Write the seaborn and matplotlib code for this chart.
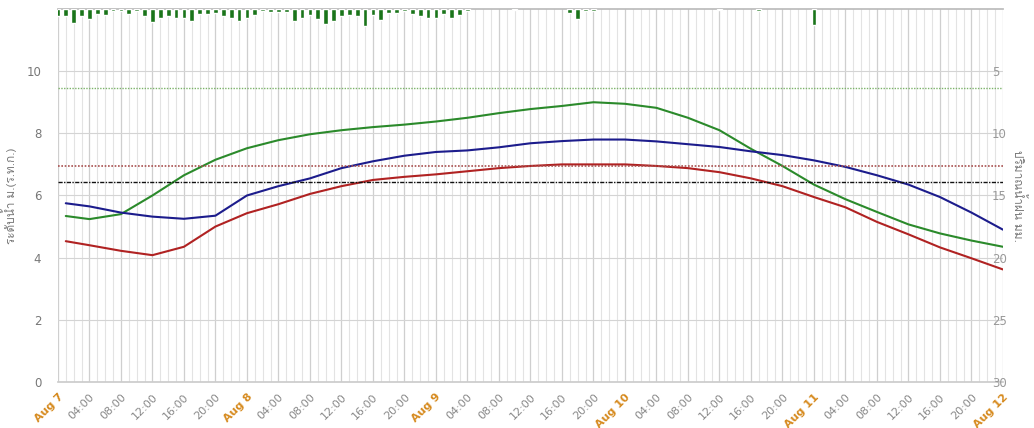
import pandas as pd
import matplotlib
matplotlib.use("Agg")
import matplotlib.pyplot as plt
import seaborn as sns
from matplotlib import font_manager
from matplotlib.ft2font import FT2Font
from matplotlib.ticker import MultipleLocator, FixedLocator

# hours since Aug 7 00:00
level_hours = [1, 4, 8, 12, 16, 20, 24, 28, 32, 36, 40, 44, 48, 52, 56, 60,
               64, 68, 72, 76, 80, 84, 88, 92, 96, 100, 104, 108, 112, 116, 120]
level_green = [5.34, 5.24, 5.4, 6.0, 6.65, 7.15, 7.52, 7.78, 7.97, 8.1, 8.2, 8.28,
               8.38, 8.5, 8.65, 8.78, 8.88, 9.0, 8.95, 8.82, 8.5, 8.1, 7.5, 6.95,
               6.35, 5.88, 5.47, 5.07, 4.78, 4.55, 4.35]
level_blue = [5.75, 5.65, 5.45, 5.32, 5.25, 5.35, 6.0, 6.3, 6.55, 6.88, 7.1, 7.28,
              7.4, 7.45, 7.55, 7.68, 7.75, 7.8, 7.8, 7.74, 7.65, 7.56, 7.42, 7.3,
              7.13, 6.92, 6.65, 6.35, 5.95, 5.45, 4.9]
level_red = [4.53, 4.4, 4.22, 4.08, 4.35, 5.0, 5.43, 5.72, 6.05, 6.3, 6.5, 6.6,
             6.68, 6.78, 6.88, 6.95, 7.0, 7.0, 7.0, 6.95, 6.88, 6.75, 6.55, 6.3,
             5.95, 5.62, 5.15, 4.75, 4.33, 3.98, 3.62]

rain_hours = list(range(0, 53)) + [58, 65, 66, 67, 68, 84, 89, 96]
rain_mm = [0.6, 0.55, 1.15, 0.6, 0.8, 0.4, 0.5, 0.2, 0.2, 0.4, 0.2, 0.6, 1.05,
           0.7, 0.6, 0.75, 0.7, 1.0, 0.4, 0.4, 0.3, 0.6, 0.75, 1.0, 0.7, 0.5,
           0.2, 0.25, 0.25, 0.25, 0.95, 0.7, 0.5, 0.8, 1.2, 1.0, 0.6, 0.5, 0.6,
           1.4, 0.5, 0.85, 0.3, 0.3, 0.2, 0.4, 0.55, 0.7, 0.75, 0.4, 0.7, 0.5,
           0.15, 0.1, 0.3, 0.8, 0.15, 0.15, 0.1, 0.15, 1.3]

ref_levels = [9.45, 6.95, 6.45]
day_labels = ["Aug 7", "Aug 8", "Aug 9", "Aug 10", "Aug 11", "Aug 12"]


def find_thai_family():
    # look for any installed font that has Thai glyphs
    for f in font_manager.fontManager.ttflist:
        try:
            cmap = FT2Font(f.fname).get_charmap()
        except Exception:
            continue
        if 0x0E01 in cmap and 0x0E13 in cmap:
            return f.name
    return None


sns.set_theme(style="white")
thai = find_thai_family()
families = ["DejaVu Sans"]
if thai:
    families.append(thai)
plt.rcParams["font.family"] = families
label_family = ([thai] if thai else []) + ["DejaVu Sans"]

df = pd.DataFrame({
    "hour": level_hours * 3,
    "level": level_green + level_blue + level_red,
    "station": ["g"] * len(level_hours) + ["b"] * len(level_hours) + ["r"] * len(level_hours),
})

fig = plt.figure(figsize=(10.34, 4.28), dpi=100)
ax = fig.add_axes([0.056, 0.1075, 0.914, 0.8715])

# grid
ax.xaxis.set_minor_locator(MultipleLocator(1))
ax.xaxis.set_major_locator(FixedLocator(range(0, 121, 4)))
ax.grid(which="minor", axis="x", color="#e3e3e3", lw=0.8)
ax.grid(which="major", axis="x", color="#cfcfcf", lw=0.9)
ax.grid(which="major", axis="y", color="#d4d4d4", lw=0.8)
ax.set_axisbelow(True)

sns.lineplot(data=df, x="hour", y="level", hue="station",
             palette={"g": "#2b8a2b", "b": "#1c1c8c", "r": "#b02222"},
             lw=1.5, legend=False, ax=ax)

ax.axhline(ref_levels[0], color="#7cb36a", ls=(0, (1, 1)), lw=1.0)
ax.axhline(ref_levels[1], color="#a8504f", ls=(0, (1, 1)), lw=1.2)
ax.axhline(ref_levels[2], color="#111111", ls=(0, (3, 1, 1, 1)), lw=1.0)

ax.set_xlim(0, 120)
ax.set_ylim(0, 12)
ax.set_yticks([0, 2, 4, 6, 8, 10])
ax.tick_params(axis="y", labelsize=8.5, labelcolor="#777777", length=0, pad=12)

labels = []
for h in range(0, 121, 4):
    labels.append(day_labels[h // 24] if h % 24 == 0 else f"{h % 24:02d}:00")
ax.set_xticklabels(labels, rotation=45, ha="right", rotation_mode="anchor")
ax.tick_params(axis="x", which="major", labelsize=8, length=4, color="#bbbbbb", pad=3)
ax.tick_params(axis="x", which="minor", length=0)
for t, h in zip(ax.get_xticklabels(), range(0, 121, 4)):
    if h % 24 == 0:
        t.set_color("#d68a1e")
        t.set_fontweight("bold")
    else:
        t.set_color("#888888")

ax.set_xlabel("")
ax.set_ylabel("ระดับน้ำ ม.(ร.ท.ก.)", fontsize=8.5, color="#777777", labelpad=7,
              family=label_family)

for s in ["left", "right"]:
    ax.spines[s].set_visible(False)
ax.spines["bottom"].set_color("#cccccc")
ax.spines["top"].set_color("#bbbbbb")

# rain on inverted right axis
ax2 = ax.twinx()
ax2.bar(rain_hours, rain_mm, width=0.6, color="#1a741a", align="center")
ax2.set_ylim(30, 0)
ax2.set_yticks([5, 10, 15, 20, 25, 30])
ax2.tick_params(axis="y", labelsize=8.5, labelcolor="#999999", length=0, pad=-8)
ax2.set_ylabel("ปริมาณน้ำฝน มม.", fontsize=8.5, color="#777777", rotation=270,
               labelpad=14, family=label_family)
for s in ["left", "right", "top", "bottom"]:
    ax2.spines[s].set_visible(False)
ax2.grid(False)

fig.savefig("out.png", dpi=100)
